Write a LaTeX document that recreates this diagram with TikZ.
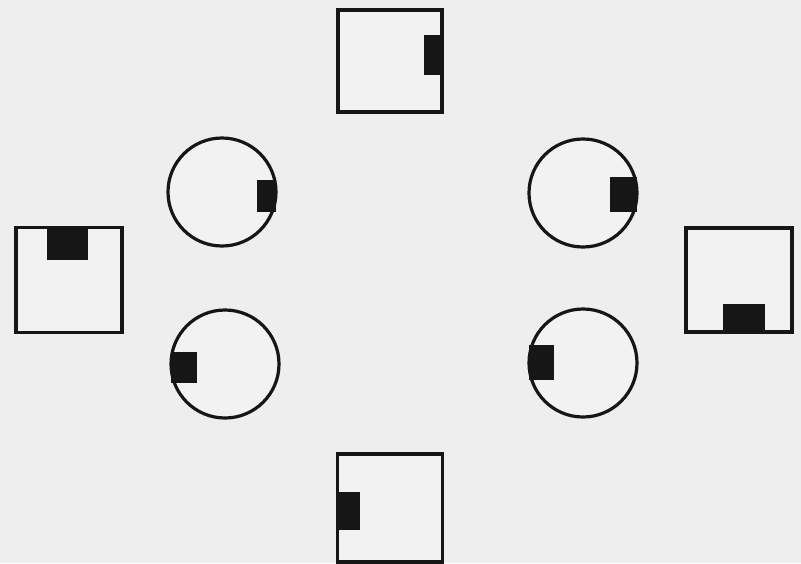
\documentclass[tikz,border=0pt]{standalone}
\usepackage{xcolor}
\definecolor{paper}{RGB}{238, 238, 238}
\definecolor{ink}{RGB}{ 22,  22,  22}
\usepackage{tikz}
\usetikzlibrary{positioning, calc}

\tikzset{
  box/.style={draw=ink, line width=3.5pt, fill=paper!75!white, inner sep=0pt},
  ring/.style={draw=ink, line width=3.2pt, fill=paper!75!white, circle, inner sep=0pt, minimum size=108pt},
  tab/.style={fill=ink, inner sep=0pt, outer sep=0pt}
}

\begin{document}
\begin{tikzpicture}[x=1pt, y=-1pt]
    \fill[paper] (0,0) rectangle (801,563);
    \useasboundingbox (0,0) rectangle (801,563);

    % squares
    \node[box, minimum width=104pt, minimum height=102pt] (sqT) at (390,61) {};
    \node[box, minimum width=106pt, minimum height=105pt] (sqL) at (69,280) {};
    \node[box, minimum width=106pt, minimum height=104pt] (sqR) at (739,280) {};
    \node[box, minimum width=105pt, minimum height=108pt] (sqB) at (390,508) {};

    % circles
    \node[ring] (cUL) at (222,192) {};
    \node[ring] (cUR) at (583,193) {};
    \node[ring] (cLL) at (225,364) {};
    \node[ring] (cLR) at (583,363) {};

    % tabs on the squares
    \node[tab, minimum width=20pt, minimum height=40pt, anchor=east]  (tabT) at ([yshift=6pt]sqT.east) {};
    \node[tab, minimum width=41pt, minimum height=34pt, anchor=north] (tabL) at ([xshift=-1.5pt]sqL.north) {};
    \node[tab, minimum width=42pt, minimum height=30pt, anchor=south] (tabR) at ([xshift=5pt]sqR.south) {};
    \node[tab, minimum width=24pt, minimum height=38pt, anchor=west]  (tabB) at ([yshift=-3pt]sqB.west) {};

    % tabs on the circles
    \node[tab, minimum width=19pt, minimum height=32pt, anchor=east] (tabUL) at ([xshift=-2pt, yshift=-4pt]cUL.east) {};
    \node[tab, minimum width=27pt, minimum height=35pt, anchor=east] (tabUR) at ([xshift=-2pt, yshift=-1.5pt]cUR.east) {};
    \node[tab, minimum width=26pt, minimum height=31pt, anchor=west] (tabLL) at ([xshift=2pt, yshift=-3pt]cLL.west) {};
    \node[tab, minimum width=25pt, minimum height=35pt, anchor=west] (tabLR) at ([xshift=2pt, yshift=1pt]cLR.west) {};
  \end{tikzpicture}
\end{document}
